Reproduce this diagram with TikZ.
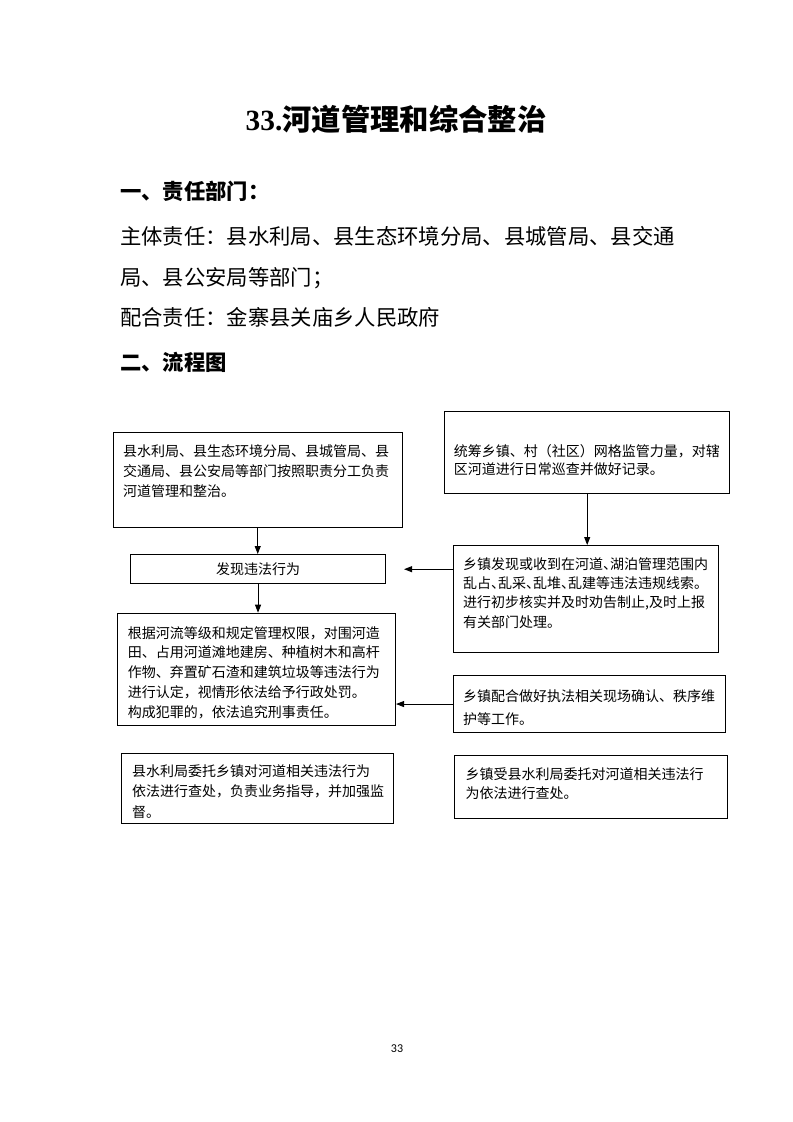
\documentclass[tikz,border=0pt]{standalone}
\usepackage{fontspec}
\setmainfont{Noto Sans CJK SC}
\newfontfamily\titlelatin{Liberation Serif}
\newfontfamily\halffont[RawFeature=+halt]{Noto Sans CJK SC}
\newfontfamily\pagefont{Carlito}
\usetikzlibrary{arrows.meta,positioning,calc}
\tikzset{
  flowarr/.style={-{Triangle[length=6pt,width=4.5pt]}, line width=0.7pt},
  flowbox/.style={draw, line width=0.8pt, inner ysep=0pt, inner xsep=7.5pt, anchor=north west},
  headtext/.style={anchor=west, inner sep=0pt, font=\fontsize{16}{16}\selectfont},
}
% top-aligned text inside a box of fixed height
\newcommand{\boxtxt}[4]{\parbox[c][#2][t]{#3}{\raggedright\vspace*{#1}#4}}
\newcommand{\hw}[1]{{\halffont #1}}

\begin{document}
\begin{tikzpicture}[
  x=0.75pt, y=-0.75pt,
  bs/.style={font=\fontsize{10.5}{#1}\selectfont},
]
  \useasboundingbox (0,0) rectangle (793,1122);

  % Heading
  \node[font=\fontsize{22}{22}\selectfont\bfseries] (title) at (396,119) {{\titlelatin 33.}河道管理和综合整治};
  \node[headtext, font=\fontsize{16}{16}\selectfont\bfseries] (h1) at (120,191) {一、责任部门：};
  \node[headtext] (l1) at (120,236) {主体责任：县水利局、县生态环境分局、县城管局、县交通};
  \node[headtext] (l2) at (120,278) {局、县公安局等部门；};
  \node[headtext] (l3) at (120,317) {配合责任：金寨县关庙乡人民政府};
  \node[headtext, font=\fontsize{16}{16}\selectfont\bfseries] (h2) at (120,362) {二、流程图};

  % Left column
  \node[flowbox, bs=15pt] (a) at (112.7,431.7) {\boxtxt{9.3pt}{71.25pt}{201.75pt}{县水利局、县生态环境分局、县城管局、县\\交通局、县公安局等部门按照职责分工负责\\河道管理和整治。}};
  \node[flowbox, bs=15pt, minimum width=191.25pt, minimum height=22pt] (c) at (130,554) {发现违法行为};
  \node[flowbox, bs=14.8pt, inner xsep=8pt] (d) at (116.7,612.7) {\boxtxt{9.8pt}{84.2pt}{192.7pt}{根据河流等级和规定管理权限，对围河造\\田、占用河道滩地建房、种植树木和高杆\\作物、弃置矿石渣和建筑垃圾等违法行为\\进行认定，视情形依法给予行政处罚。\\构成犯罪的，依法追究刑事责任。}};
  \node[flowbox, bs=15.3pt, inner xsep=8.25pt] (g) at (120.7,752.7) {\boxtxt{8.6pt}{52.5pt}{187.5pt}{县水利局委托乡镇对河道相关违法行为\\依法进行查处，负责业务指导，并加强监\\督。}};

  % Right column
  \node[flowbox, bs=13.7pt, inner xsep=7pt] (b) at (444,410.7) {\boxtxt{25pt}{61.5pt}{200pt}{统筹乡镇、村（社区）网格监管力量，对辖\\区河道进行日常巡查并做好记录。}};
  \node[flowbox, bs=14.5pt] (e) at (452.7,545) {\boxtxt{8.85pt}{80pt}{184.2pt}{乡镇发现或收到在河道\hw{、}湖泊管理范围内\\乱占\hw{、}乱采\hw{、}乱堆\hw{、}乱建等违法违规线索。\\进行初步核实并及时劝告制止,及时上报\\有关部门处理。}};
  \node[flowbox, bs=17.5pt] (f) at (452.7,675) {\boxtxt{10.6pt}{42.75pt}{189.2pt}{乡镇配合做好执法相关现场确认、秩序维\\护等工作。}};
  \node[flowbox, bs=14.25pt, inner xsep=8.25pt] (h) at (454,755) {\boxtxt{8.85pt}{47pt}{188pt}{乡镇受县水利局委托对河道相关违法行\\为依法进行查处。}};

  \coordinate (cin) at ($(c.east)+(18,0)$);

  \draw[flowarr] (a.south) -- (a.south |- c.north);
  \draw[flowarr] (c.south) -- (c.south |- d.north);
  \draw[flowarr] (b.south) -- (b.south |- e.north);
  \draw[flowarr] (e.west |- c.east) -- (cin);
  \draw[flowarr] (f.west) -- (f.west -| d.east);

  \node[font=\pagefont\fontsize{9}{9}\selectfont] (pg) at (397,1049) {33};
\end{tikzpicture}
\end{document}
